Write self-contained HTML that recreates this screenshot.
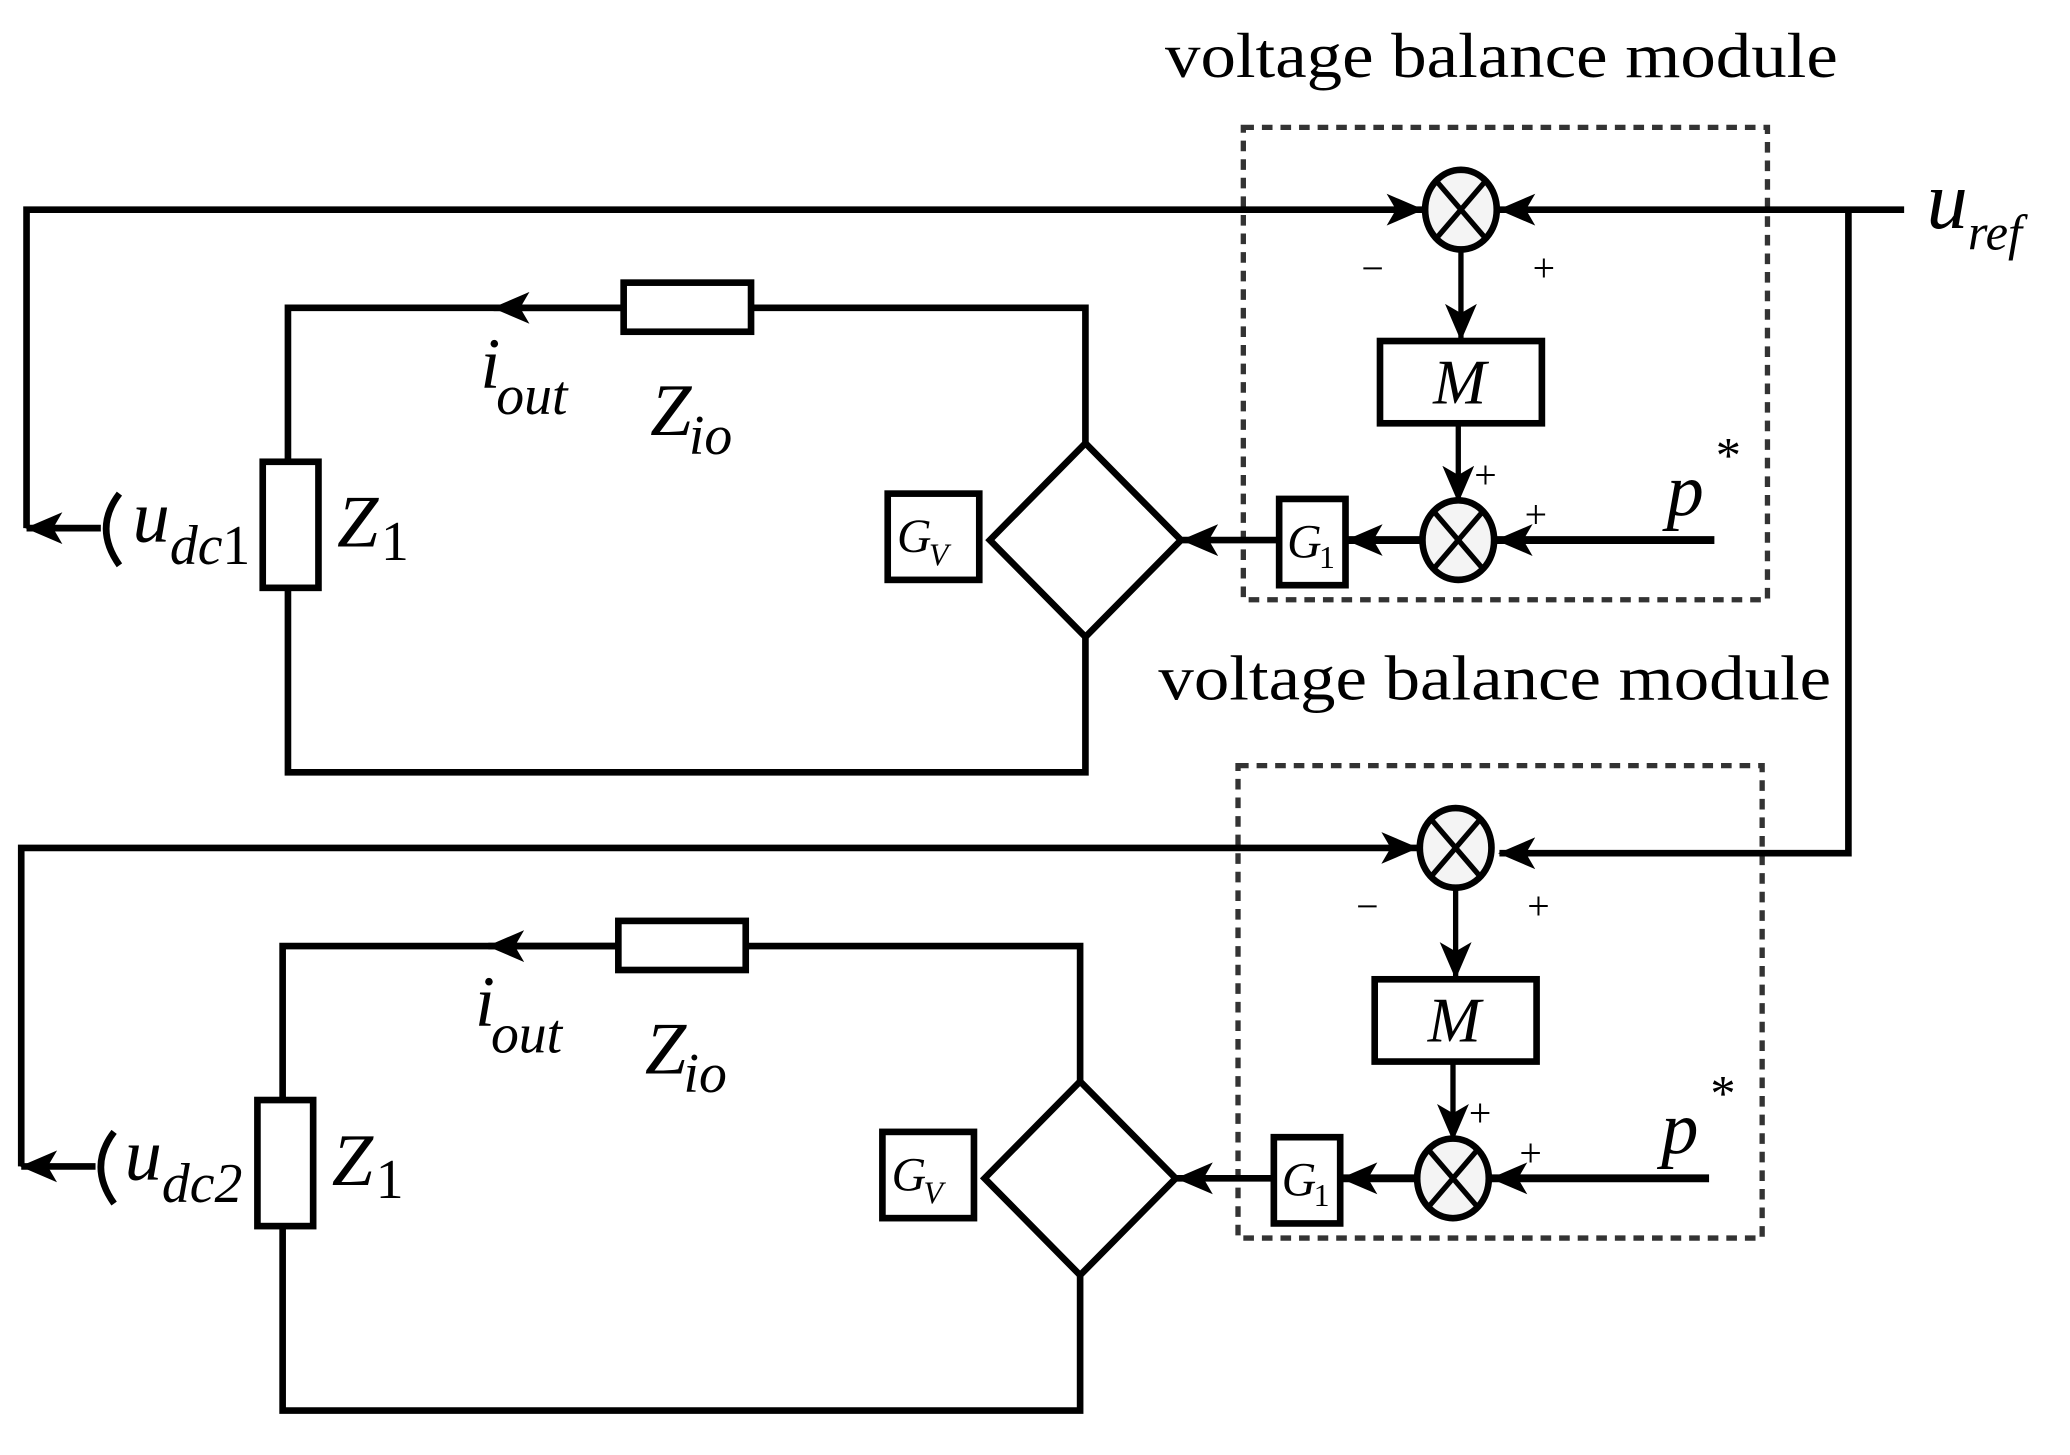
<!DOCTYPE html>
<html><head><meta charset="utf-8"><style>
html,body{margin:0;padding:0;background:#fff;}
svg{display:block;}
svg text{font-family:"Liberation Serif","Times New Roman",serif;}
</style></head><body>
<svg width="2070" height="1455" viewBox="0 0 1560 1096.5" preserveAspectRatio="none" xmlns="http://www.w3.org/2000/svg" font-family="'Liberation Serif', serif" fill="#000">
<defs>
<marker id="ar" viewBox="0 0 28 24" refX="27" refY="12" markerWidth="28" markerHeight="24" markerUnits="userSpaceOnUse" orient="auto">
<path d="M0,0 L28,12 L0,24 L7,12 Z" fill="#000"/>
</marker>
<g id="mod">
  <rect x="937" y="96" width="395" height="356" fill="none" stroke="#333" stroke-width="4" stroke-dasharray="8,6"/>
  <polyline points="20,398 20,158 1072,158" fill="none" stroke="#000" stroke-width="5" marker-end="url(#ar)"/>
  <line x1="76" y1="398" x2="20" y2="398" stroke="#000" stroke-width="5" marker-end="url(#ar)"/>
  <ellipse cx="1101" cy="158" rx="27" ry="30" fill="#f4f4f4" stroke="#000" stroke-width="5"/>
  <line x1="1083" y1="137" x2="1119" y2="179" stroke="#000" stroke-width="4"/>
  <line x1="1119" y1="137" x2="1083" y2="179" stroke="#000" stroke-width="4"/>
  <text x="1026" y="212" font-size="30">−</text>
  <text x="1155" y="212" font-size="30">+</text>
  <line x1="1101" y1="188" x2="1101" y2="256" stroke="#000" stroke-width="4" marker-end="url(#ar)"/>
  <rect x="1040" y="257" width="122" height="62" fill="#fff" stroke="#000" stroke-width="5"/>
  <text x="1080" y="304" font-size="48" font-style="italic">M</text>
  <line x1="1099" y1="319" x2="1099" y2="378" stroke="#000" stroke-width="4" marker-end="url(#ar)"/>
  <text x="1111" y="368" font-size="30">+</text>
  <text x="1149" y="398" font-size="30">+</text>
  <ellipse cx="1099" cy="407" rx="27" ry="30" fill="#f4f4f4" stroke="#000" stroke-width="5"/>
  <line x1="1081" y1="386" x2="1117" y2="428" stroke="#000" stroke-width="4"/>
  <line x1="1117" y1="386" x2="1081" y2="428" stroke="#000" stroke-width="4"/>
  <line x1="1292" y1="407" x2="1128" y2="407" stroke="#000" stroke-width="6" marker-end="url(#ar)"/>
  <text x="1256" y="388" font-size="56" font-style="italic">p</text>
  <text x="1293" y="356" font-size="38">*</text>
  <line x1="1071" y1="407" x2="1015" y2="407" stroke="#000" stroke-width="6" marker-end="url(#ar)"/>
  <rect x="964" y="376" width="50" height="65" fill="#fff" stroke="#000" stroke-width="5"/>
  <text x="970" y="420" font-size="36" font-style="italic">G<tspan font-size="24" font-style="normal" dx="-2" dy="8">1</tspan></text>
  <line x1="963" y1="407" x2="891" y2="407" stroke="#000" stroke-width="5" marker-end="url(#ar)"/>
  <polygon points="818,334 890,407 818,480 746,407" fill="#fff" stroke="#000" stroke-width="5"/>
  <rect x="669" y="372" width="69" height="65" fill="#fff" stroke="#000" stroke-width="5"/>
  <text x="676" y="416" font-size="36" font-style="italic">G<tspan font-size="24" dx="-2" dy="10">V</tspan></text>
  <polyline points="818,334 818,232 217,232 217,348" fill="none" stroke="#000" stroke-width="5"/>
  <polyline points="818,480 818,582 217,582 217,443" fill="none" stroke="#000" stroke-width="5"/>
  <line x1="470" y1="232" x2="372" y2="232" stroke="#000" stroke-width="5" marker-end="url(#ar)"/>
  <rect x="470" y="213" width="96" height="37" fill="#fff" stroke="#000" stroke-width="5"/>
  <rect x="198" y="348" width="42" height="95" fill="#fff" stroke="#000" stroke-width="5"/>
  <text x="362" y="292" font-size="54" font-style="italic">i<tspan font-size="42" dx="-3" dy="20">out</tspan></text>
  <text x="490" y="328" font-size="56" font-style="italic">Z<tspan font-size="42" dx="-2" dy="14">io</tspan></text>
  <text x="254" y="412" font-size="56" font-style="italic">Z<tspan font-size="42" font-style="normal" dx="2" dy="10">1</tspan></text>
  <path d="M90,372 Q70,398 90,426" fill="none" stroke="#000" stroke-width="5"/>
</g>
</defs>
<text x="878" y="58" font-size="48" textLength="507" lengthAdjust="spacingAndGlyphs">voltage balance module</text>
<text x="873" y="527" font-size="48" textLength="507" lengthAdjust="spacingAndGlyphs">voltage balance module</text>
<use href="#mod"/>
<text x="100" y="408" font-size="56" font-style="italic">u<tspan font-size="42" dy="17">dc</tspan><tspan font-size="42" font-style="normal">1</tspan></text>
<use href="#mod" transform="translate(-4,481)"/>
<text x="94" y="889" font-size="56" font-style="italic">u<tspan font-size="42" dy="17">dc</tspan><tspan font-size="42">2</tspan></text>
<line x1="1435" y1="158" x2="1130" y2="158" stroke="#000" stroke-width="5" marker-end="url(#ar)"/>
<polyline points="1393,158 1393,643 1130,643" fill="none" stroke="#000" stroke-width="5" marker-end="url(#ar)"/>
<text x="1452" y="172" font-size="62" font-style="italic">u<tspan font-size="38" dy="16">ref</tspan></text>
</svg>
</body></html>
